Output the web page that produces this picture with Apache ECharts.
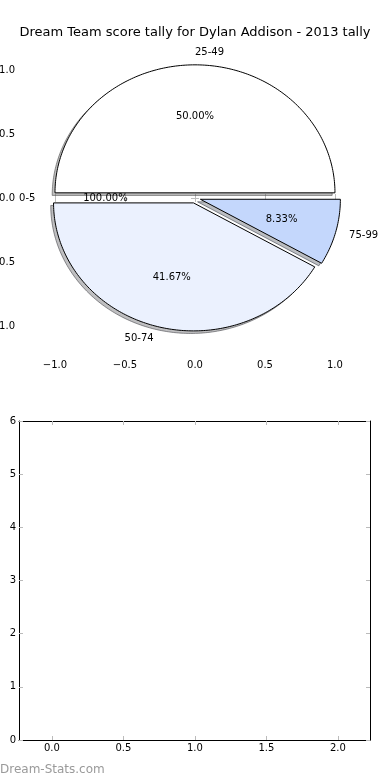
<!DOCTYPE html>
<html>
<head>
<meta charset="utf-8">
<script src="https://cdn.jsdelivr.net/npm/echarts@6/dist/echarts.min.js"></script>
<style>html,body{margin:0;padding:0;background:#fff;}#c{width:390px;height:780px;}</style>
</head>
<body>
<div id="c"></div>
<script>
const titleText = 'Dream Team score tally for Dylan Addison - 2013 tally';
const sliceLabels = ['25-49', '0-5', '50-74', '75-99'];
const sliceValues = [6, 0, 5, 1];
const pctLabels = ['50.00%', '100.00%', '41.67%', '8.33%'];
const explode = [0.04, 0.04, 0.04, 0.04];
const pieTicks = [-1, -0.5, 0, 0.5, 1];
const pieTickLabels = ['\u22121.0', '\u22120.5', '0.0', '0.5', '1.0'];
const barXTicks = [0, 0.5, 1, 1.5, 2];
const barXTickLabels = ['0.0', '0.5', '1.0', '1.5', '2.0'];
const barYTicks = [0, 1, 2, 3, 4, 5, 6];
const barYTickLabels = ['0', '1', '2', '3', '4', '5', '6'];
const watermark = 'Dream-Stats.com';

const sliceColors = ['#ffffff', '#ffffff', '#ebf1fe', '#c4d7fc'];
const FONT = 'DejaVu Sans';
const total = sliceValues.reduce((a, b) => a + b, 0);
const starts = [];
let acc = 0;
sliceValues.forEach(v => { starts.push(acc / total * 360); acc += v; });

function lookup(ticks, labels) {
  return function (v) {
    for (let i = 0; i < ticks.length; i++) if (Math.abs(ticks[i] - v) < 1e-9) return labels[i];
    return '';
  };
}

function shade(hex, a) {
  const r = parseInt(hex.slice(1, 3), 16) * 0.3, g = parseInt(hex.slice(3, 5), 16) * 0.3, b = parseInt(hex.slice(5, 7), 16) * 0.3;
  return 'rgba(' + Math.round(r) + ',' + Math.round(g) + ',' + Math.round(b) + ',' + a + ')';
}

function wedge(i, api, dx, dy) {
  const a1 = starts[i], a2 = a1 + sliceValues[i] / total * 360;
  const mid = (a1 + a2) / 2 * Math.PI / 180;
  const ox = explode[i] * Math.cos(mid) + dx, oy = explode[i] * Math.sin(mid) + dy;
  const pts = [api.coord([ox, oy])];
  const n = Math.max(2, Math.ceil(a2 - a1));
  for (let k = 0; k <= n; k++) {
    const a = (a1 + (a2 - a1) * k / n) * Math.PI / 180;
    pts.push(api.coord([ox + Math.cos(a), oy + Math.sin(a)]));
  }
  return { pts, ox, oy, mid };
}

const sliceData = sliceValues.map((v, i) => ({ value: [i, v] }));

const option = {
  animation: false,
  backgroundColor: '#ffffff',
  title: {
    text: titleText, left: 'center', top: 21,
    textStyle: { fontFamily: FONT, fontSize: 13, fontWeight: 'normal', color: '#000' }
  },
  graphic: [{
    type: 'text', left: 0, top: 764,
    style: { text: watermark, fill: '#9a9a9a', font: '12px ' + FONT }
  }],
  grid: [
    { left: 20, right: 22, top: 40, bottom: 425, outerBoundsMode: 'none', containLabel: false },
    { left: 19, right: 20, top: 421, bottom: 40, outerBoundsMode: 'none', containLabel: false }
  ],
  xAxis: [
    { type: 'value', gridIndex: 0, position: 'bottom', min: -1.25, max: 1.236,
      axisLine: { show: false }, splitLine: { show: false },
      axisTick: { inside: true, length: 4, customValues: pieTicks, lineStyle: { color: '#bbbbbb' } },
      axisLabel: { customValues: pieTicks, formatter: lookup(pieTicks, pieTickLabels), margin: 5, color: '#000', fontFamily: FONT, fontSize: 10 } },
    { type: 'value', gridIndex: 0, position: 'top', min: -1.25, max: 1.236,
      axisLine: { show: false }, splitLine: { show: false },
      axisTick: { inside: true, length: 4, customValues: pieTicks, lineStyle: { color: '#bbbbbb' } },
      axisLabel: { show: false } },
    { type: 'value', gridIndex: 1, position: 'bottom', min: -0.23, max: 2.225,
      axisLine: { show: true, onZero: false, lineStyle: { color: '#000', width: 1 } }, splitLine: { show: false },
      axisTick: { inside: true, length: 4, customValues: barXTicks, lineStyle: { color: '#bbbbbb' } },
      axisLabel: { customValues: barXTicks, formatter: lookup(barXTicks, barXTickLabels), margin: 3, color: '#000', fontFamily: FONT, fontSize: 10 } },
    { type: 'value', gridIndex: 1, position: 'top', min: -0.23, max: 2.225,
      axisLine: { show: true, onZero: false, lineStyle: { color: '#000', width: 1 } }, splitLine: { show: false },
      axisTick: { inside: true, length: 4, customValues: barXTicks, lineStyle: { color: '#bbbbbb' } },
      axisLabel: { show: false } }
  ],
  yAxis: [
    { type: 'value', gridIndex: 0, position: 'left', min: -1.227, max: 1.234,
      axisLine: { show: false }, splitLine: { show: false },
      axisTick: { inside: true, length: 4, customValues: pieTicks, lineStyle: { color: '#bbbbbb' } },
      axisLabel: { customValues: pieTicks, formatter: lookup(pieTicks, pieTickLabels), margin: 5, color: '#000', fontFamily: FONT, fontSize: 10 } },
    { type: 'value', gridIndex: 0, position: 'right', min: -1.227, max: 1.234,
      axisLine: { show: false }, splitLine: { show: false },
      axisTick: { inside: true, length: 4, customValues: pieTicks, lineStyle: { color: '#bbbbbb' } },
      axisLabel: { show: false } },
    { type: 'value', gridIndex: 1, position: 'left', min: 0, max: 6,
      axisLine: { show: true, onZero: false, lineStyle: { color: '#000', width: 1 } }, splitLine: { show: false },
      axisTick: { inside: true, length: 4, customValues: barYTicks, lineStyle: { color: '#bbbbbb' } },
      axisLabel: { customValues: barYTicks, formatter: lookup(barYTicks, barYTickLabels), margin: 3, color: '#000', fontFamily: FONT, fontSize: 10 } },
    { type: 'value', gridIndex: 1, position: 'right', min: 0, max: 6,
      axisLine: { show: true, onZero: false, lineStyle: { color: '#000', width: 1 } }, splitLine: { show: false },
      axisTick: { inside: true, length: 4, customValues: barYTicks, lineStyle: { color: '#bbbbbb' } },
      axisLabel: { show: false } }
  ],
  series: [
    {
      type: 'custom', name: 'shadow', xAxisIndex: 0, yAxisIndex: 0, data: sliceData, z: 1,
      renderItem: function (params, api) {
        const i = params.dataIndex;
        if (sliceValues[i] <= 0) return null;
        const w = wedge(i, api, -0.02, -0.02);
        return { type: 'polygon', shape: { points: w.pts }, style: { fill: shade(sliceColors[i], 0.35), stroke: shade(sliceColors[i], 0.6), lineWidth: 1 } };
      }
    },
    {
      type: 'custom', name: 'slices', xAxisIndex: 0, yAxisIndex: 0, data: sliceData, z: 2,
      renderItem: function (params, api) {
        const i = params.dataIndex;
        const w = wedge(i, api, 0, 0);
        const children = [];
        if (sliceValues[i] > 0) {
          children.push({ type: 'polygon', shape: { points: w.pts }, style: { fill: sliceColors[i], stroke: '#000', lineWidth: 1 } });
        }
        const lx = w.ox + 1.1 * Math.cos(w.mid), ly = w.oy + 1.1 * Math.sin(w.mid);
        const lp = api.coord([lx, ly]);
        children.push({ type: 'text', z2: 10, style: { text: sliceLabels[i], x: lp[0], y: lp[1], textAlign: lx > 0 ? 'left' : 'right', textVerticalAlign: 'middle', fill: '#000', font: '10px ' + FONT } });
        const pp = api.coord([w.ox + 0.6 * Math.cos(w.mid), w.oy + 0.6 * Math.sin(w.mid)]);
        children.push({ type: 'text', z2: 10, style: { text: pctLabels[i], x: pp[0], y: pp[1], textAlign: 'center', textVerticalAlign: 'middle', fill: '#000', font: '10px ' + FONT } });
        return { type: 'group', children };
      }
    },
    { type: 'scatter', xAxisIndex: 2, yAxisIndex: 2, data: [] }
  ]
};

const chart = echarts.init(document.getElementById('c'), null, { renderer: 'canvas' });
chart.setOption(option);
</script>
</body>
</html>
